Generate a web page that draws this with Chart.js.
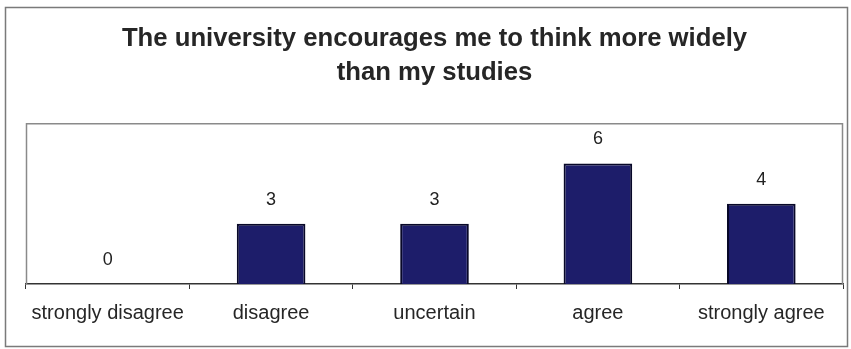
<!DOCTYPE html>
<html>
<head>
<meta charset="utf-8">
<script src="https://cdn.jsdelivr.net/npm/chart.js@4/dist/chart.umd.min.js"></script>
<style>
  html, body { margin: 0; padding: 0; background: #fff; }
  #wrap { width: 851px; height: 349px; }
</style>
</head>
<body>
<div id="wrap"><canvas id="c" width="851" height="349"></canvas></div>
<script>
// Survey responses
const categories = ['strongly disagree', 'disagree', 'uncertain', 'agree', 'strongly agree'];
const counts = [0, 3, 3, 6, 4];
const titleLines = ['The university encourages me to think more widely', 'than my studies'];

const FONT = '"Liberation Sans", Arial, sans-serif';

// Frame around the whole figure and the box around the plot area
const framePlugin = {
  id: 'frame',
  beforeDraw(chart) {
    const ctx = chart.ctx;
    ctx.save();
    ctx.fillStyle = '#fff';
    ctx.fillRect(0, 0, chart.width, chart.height);
    ctx.strokeStyle = '#7a7a7a';
    ctx.lineWidth = 1.5;
    ctx.strokeRect(5.5, 7.5, 842, 339);
    ctx.restore();
  },
  afterDatasetsDraw(chart) {
    const a = chart.chartArea;
    const ctx = chart.ctx;
    ctx.save();
    ctx.strokeStyle = '#8a8a8a';
    ctx.lineWidth = 1.5;
    ctx.beginPath();
    ctx.moveTo(a.left + 0.5, a.bottom);
    ctx.lineTo(a.left + 0.5, a.top + 0.5);
    ctx.lineTo(a.right - 0.5, a.top + 0.5);
    ctx.lineTo(a.right - 0.5, a.bottom);
    ctx.stroke();
    ctx.restore();
  }
};

// Value printed above each bar
const valueLabels = {
  id: 'valueLabels',
  afterDatasetsDraw(chart) {
    const ctx = chart.ctx;
    const meta = chart.getDatasetMeta(0);
    const y = chart.scales.y;
    ctx.save();
    ctx.fillStyle = '#222';
    ctx.font = '18px ' + FONT;
    ctx.textAlign = 'center';
    ctx.textBaseline = 'middle';
    meta.data.forEach((bar, i) => {
      const v = chart.data.datasets[0].data[i];
      ctx.fillText(String(v), bar.x, y.getPixelForValue(v) - 24);
    });
    ctx.restore();
  }
};

new Chart(document.getElementById('c'), {
  type: 'bar',
  data: {
    labels: categories,
    datasets: [{
      data: counts,
      backgroundColor: '#1d1d6a',
      borderColor: '#080828',
      borderWidth: 2,
      categoryPercentage: 1,
      barPercentage: 0.42
    }]
  },
  options: {
    responsive: false,
    animation: false,
    devicePixelRatio: 1,
    layout: { padding: { top: 5, left: 26, right: 8, bottom: 6 } },
    plugins: {
      legend: { display: false },
      tooltip: { enabled: false },
      title: {
        display: true,
        text: titleLines,
        color: '#262626',
        font: { family: FONT, size: 25.7, weight: 'bold', lineHeight: 1.33 },
        padding: { top: 17, bottom: 33 }
      }
    },
    scales: {
      x: {
        offset: true,
        grid: {
          offset: true,
          drawOnChartArea: false,
          drawTicks: true,
          tickLength: 5,
          color: '#333',
          lineWidth: 1
        },
        border: { display: true, color: '#333', width: 1.5 },
        ticks: {
          color: '#262626',
          font: { family: FONT, size: 20 },
          padding: 12,
          maxRotation: 0,
          autoSkip: false
        },
        afterFit(scale) { scale.height = 59; }
      },
      y: {
        display: false,
        min: 0,
        max: 8
      }
    }
  },
  plugins: [framePlugin, valueLabels]
});
</script>
</body>
</html>
